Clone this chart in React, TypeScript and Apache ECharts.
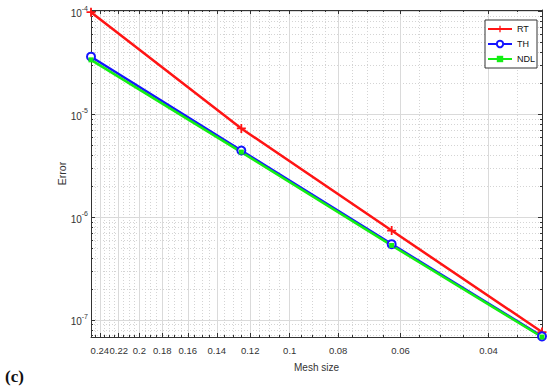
import React, { useEffect, useRef } from 'react';
import * as echarts from 'echarts';

// ---- data ----
const meshSizes = [0.25, 0.125, 0.0625, 0.03125];
const errRT = [9.9e-5, 7.3e-6, 7.4e-7, 7.6e-8];
const errTH = [3.65e-5, 4.45e-6, 5.45e-7, 6.9e-8];
const errNDL = [3.4e-5, 4.3e-6, 5.3e-7, 6.8e-8];
const seriesNames = ['RT', 'TH', 'NDL'];
const seriesColors = ['#ff1414', '#1414ff', '#14ee14'];

// ---- axis ticks ----
const xTickLabels = ['0.24', '0.22', '0.2', '0.18', '0.16', '0.14', '0.12', '0.1', '0.08', '0.06', '0.04'];
const xMinorTicks = [
  0.245, 0.235, 0.23, 0.225, 0.215, 0.21, 0.205, 0.195, 0.19, 0.185, 0.175, 0.17, 0.165,
  0.155, 0.15, 0.145, 0.135, 0.13, 0.125, 0.115, 0.11, 0.105, 0.095, 0.09, 0.085, 0.075,
  0.07, 0.065, 0.055, 0.05, 0.045, 0.035,
];
const yTickExponents = [-7, -6, -5, -4];
const yMinorTicks = [
  7e-8, 8e-8, 9e-8,
  2e-7, 3e-7, 4e-7, 5e-7, 6e-7, 7e-7, 8e-7, 9e-7,
  2e-6, 3e-6, 4e-6, 5e-6, 6e-6, 7e-6, 8e-6, 9e-6,
  2e-5, 3e-5, 4e-5, 5e-5, 6e-5, 7e-5, 8e-5, 9e-5,
];
const X_MIN = 0.03125;
const X_MAX = 0.25;
const Y_MIN = 6.8e-8;
const Y_MAX = 1.04e-4;

const FONT = 'Liberation Sans';
const AX = '#333333';
const TXT = '#333333';

const PLUS = 'path://M4,0H6V4H10V6H6V10H4V6H0V4H4Z';

export default function App() {
  const ref = useRef<HTMLDivElement>(null);
  useEffect(() => {
    if (!ref.current) return;
    const chart = echarts.init(ref.current, undefined, { renderer: 'svg' });
    const lx = Math.log10;
    const xMajor = xTickLabels.map((s) => lx(parseFloat(s)));
    const xMinor = xMinorTicks.map((v) => lx(v));
    const yMajor = yTickExponents.slice();
    const yMinor = yMinorTicks.map((v) => lx(v));
    const xr = { type: 'value', min: lx(X_MIN), max: lx(X_MAX), inverse: true, gridIndex: 0 };
    const yr = { type: 'value', min: lx(Y_MIN), max: lx(Y_MAX), gridIndex: 0 };
    const noLine = { show: false };
    const frameLine = { show: true, onZero: false, lineStyle: { color: AX, width: 1 } };
    const majorTick = (vals: number[]) => ({ show: true, inside: true, length: 4, customValues: vals, lineStyle: { color: AX, width: 1 } });
    const minorTick = (vals: number[]) => ({ show: true, inside: true, length: 2, customValues: vals, lineStyle: { color: AX, width: 1 } });
    const majorSplit = { show: true, lineStyle: { color: '#dadada', width: 1 } };
    const minorSplit = { show: true, lineStyle: { color: '#d4d4d4', width: 1, type: [1, 2] } };

    const xFmt = (v: number) => String(parseFloat(Math.pow(10, v).toFixed(2)));
    const yFmt = (v: number) => `{b|10}{s|${Math.round(v)}}`;

    const mk = (arr: number[]) => meshSizes.map((m, i) => [m, arr[i]]);

    chart.setOption({
      animation: false,
      backgroundColor: '#ffffff',
      grid: { left: 91, right: 8, top: 10, bottom: 54, containLabel: false },
      xAxis: [
        { type: 'log', logBase: 10, min: X_MIN, max: X_MAX, inverse: true, show: false },
        {
          ...xr, position: 'bottom', axisLine: frameLine, axisTick: majorTick(xMajor),
          axisLabel: {
            show: true, customValues: xMajor, formatter: xFmt, margin: 8, fontSize: 9.5, color: TXT, fontFamily: FONT,
            hideOverlap: false, showMinLabel: true, showMaxLabel: true,
          },
          splitLine: majorSplit,
          name: 'Mesh size', nameLocation: 'middle', nameGap: 25, nameMoveOverlap: false,
          nameTextStyle: { fontSize: 10, color: TXT, fontFamily: FONT },
        },
        { ...xr, position: 'bottom', axisLine: noLine, axisTick: minorTick(xMinor), axisLabel: { show: false }, splitLine: minorSplit },
        { ...xr, position: 'top', axisLine: frameLine, axisTick: majorTick(xMajor), axisLabel: { show: false }, splitLine: { show: false } },
        { ...xr, position: 'top', axisLine: noLine, axisTick: minorTick(xMinor), axisLabel: { show: false }, splitLine: { show: false } },
      ],
      yAxis: [
        { type: 'log', logBase: 10, min: Y_MIN, max: Y_MAX, show: false },
        {
          ...yr, position: 'left', axisLine: frameLine, axisTick: majorTick(yMajor),
          axisLabel: {
            show: true, customValues: yMajor, formatter: yFmt, margin: 3, color: TXT, fontFamily: FONT,
            hideOverlap: false, showMinLabel: true, showMaxLabel: true,
            rich: {
              b: { fontSize: 10, color: TXT, fontFamily: FONT, lineHeight: 14, verticalAlign: 'bottom' },
              s: { fontSize: 7, color: TXT, fontFamily: FONT, lineHeight: 8, verticalAlign: 'top' },
            },
          },
          splitLine: majorSplit,
          name: 'Error', nameLocation: 'middle', nameGap: 24, nameMoveOverlap: false,
          nameTextStyle: { fontSize: 10.5, color: TXT, fontFamily: FONT },
        },
        { ...yr, position: 'left', axisLine: noLine, axisTick: minorTick(yMinor), axisLabel: { show: false }, splitLine: minorSplit },
        { ...yr, position: 'right', axisLine: frameLine, axisTick: majorTick(yMajor), axisLabel: { show: false }, splitLine: { show: false } },
        { ...yr, position: 'right', axisLine: noLine, axisTick: minorTick(yMinor), axisLabel: { show: false }, splitLine: { show: false } },
      ],
      legend: {
        data: seriesNames,
        orient: 'vertical',
        left: 485,
        top: 20,
        padding: [4, 2, 4, 2],
        itemGap: 5,
        itemWidth: 24,
        itemHeight: 8,
        backgroundColor: '#ffffff',
        borderColor: '#333333',
        borderWidth: 1,
        borderRadius: 0,
        textStyle: { fontSize: 9, color: '#111111', fontFamily: FONT, lineHeight: 10 },
      },
      graphic: [
        {
          type: 'text', left: 5, top: 368,
          style: { text: '(c)', fontFamily: 'Liberation Serif', fontWeight: 'bold', fontSize: 17, fill: '#111111' },
        },
      ],
      series: [
        {
          name: seriesNames[0], type: 'line', xAxisIndex: 0, yAxisIndex: 0, data: mk(errRT),
          symbol: PLUS, symbolSize: 9, clip: false,
          lineStyle: { color: seriesColors[0], width: 2.5 }, itemStyle: { color: seriesColors[0] },
        },
        {
          name: seriesNames[1], type: 'line', xAxisIndex: 0, yAxisIndex: 0, data: mk(errTH),
          symbol: 'emptyCircle', symbolSize: 8, clip: false,
          lineStyle: { color: seriesColors[1], width: 2.5 }, itemStyle: { color: seriesColors[1], borderWidth: 2 },
        },
        {
          name: seriesNames[2], type: 'line', xAxisIndex: 0, yAxisIndex: 0, data: mk(errNDL),
          symbol: 'rect', symbolSize: 5, clip: false,
          lineStyle: { color: seriesColors[2], width: 2.5 }, itemStyle: { color: seriesColors[2] },
        },
      ],
    });
    return () => chart.dispose();
  }, []);
  return (
    <div
      ref={ref}
      style={{ position: 'fixed', left: 0, top: 0, width: 550, height: 391, background: '#fff' }}
    />
  );
}
